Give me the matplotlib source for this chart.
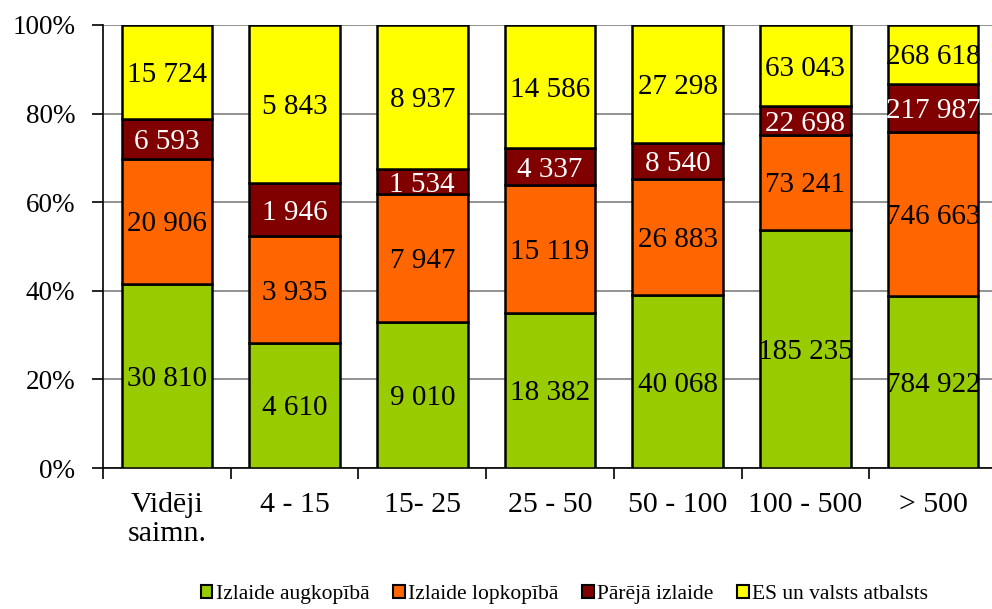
import numpy as np
import matplotlib
matplotlib.use("Agg")
import matplotlib.pyplot as plt
from matplotlib.patches import Patch

plt.rcParams["font.family"] = ["Liberation Serif", "DejaVu Serif"]

categories = ["Vidēji\nsaimn.", "4 - 15", "15- 25", "25 - 50", "50 - 100", "100 - 500", "> 500"]
series_names = ["Izlaide augkopībā", "Izlaide lopkopībā", "Pārējā izlaide", "ES un valsts atbalsts"]
augkopiba = [30810, 4610, 9010, 18382, 40068, 185235, 784922]
lopkopiba = [20906, 3935, 7947, 15119, 26883, 73241, 746663]
parejaa = [6593, 1946, 1534, 4337, 8540, 22698, 217987]
atbalsts = [15724, 5843, 8937, 14586, 27298, 63043, 268618]
colors = ["#99CC00", "#FF6600", "#800000", "#FFFF00"]
text_colors = ["black", "black", "white", "black"]


def fmt(v):
    return f"{v:,}".replace(",", " ")


data = np.array([augkopiba, lopkopiba, parejaa, atbalsts], dtype=float)
shares = data / data.sum(axis=0) * 100
x = np.arange(len(categories))

fig = plt.figure(figsize=(9.92, 6.09), dpi=100)
ax = fig.add_axes([103 / 992, 1 - 468 / 609, 894 / 992, 443 / 609])

bottom = np.zeros(len(categories))
for i in range(len(series_names)):
    ax.bar(x, shares[i], bottom=bottom, width=0.71, color=colors[i],
           edgecolor="black", linewidth=1.8, zorder=3)
    for j in range(len(categories)):
        ax.text(x[j], bottom[j] + shares[i][j] / 2, fmt(int(data[i][j])),
                ha="center", va="center_baseline", fontsize=21, color=text_colors[i], zorder=4)
    bottom += shares[i]

ax.set_xlim(-0.5, len(categories) - 0.5)
ax.set_ylim(0, 100)
ax.set_yticks(np.arange(0, 101, 20))
ax.set_yticklabels([f"{v}%" for v in range(0, 101, 20)], fontsize=19.5)
ax.yaxis.grid(True, color="#808080", linewidth=1.2, zorder=0)

ax.set_xticks(x)
ax.set_xticklabels(categories, fontsize=21.5, linespacing=1.15)
ax.set_xticks(np.arange(-0.5, len(categories), 1), minor=True)
ax.tick_params(axis="x", which="major", length=0, pad=17)
ax.tick_params(axis="x", which="minor", length=8, width=1.2, direction="out")
ax.tick_params(axis="y", length=8, width=1.2, direction="out", pad=12)

for side in ["top", "right"]:
    ax.spines[side].set_visible(False)
ax.spines["left"].set_linewidth(1.2)
ax.spines["bottom"].set_linewidth(1.2)

handles = [Patch(facecolor=c, edgecolor="black", linewidth=1.5) for c in colors]
fig.legend(handles, series_names, loc="lower center", bbox_to_anchor=(0.569, -0.024),
           ncol=4, frameon=False, fontsize=15.5, handlelength=0.55, handleheight=0.55,
           handletextpad=0.15, columnspacing=1.1)

fig.savefig("out.png", dpi=100)
